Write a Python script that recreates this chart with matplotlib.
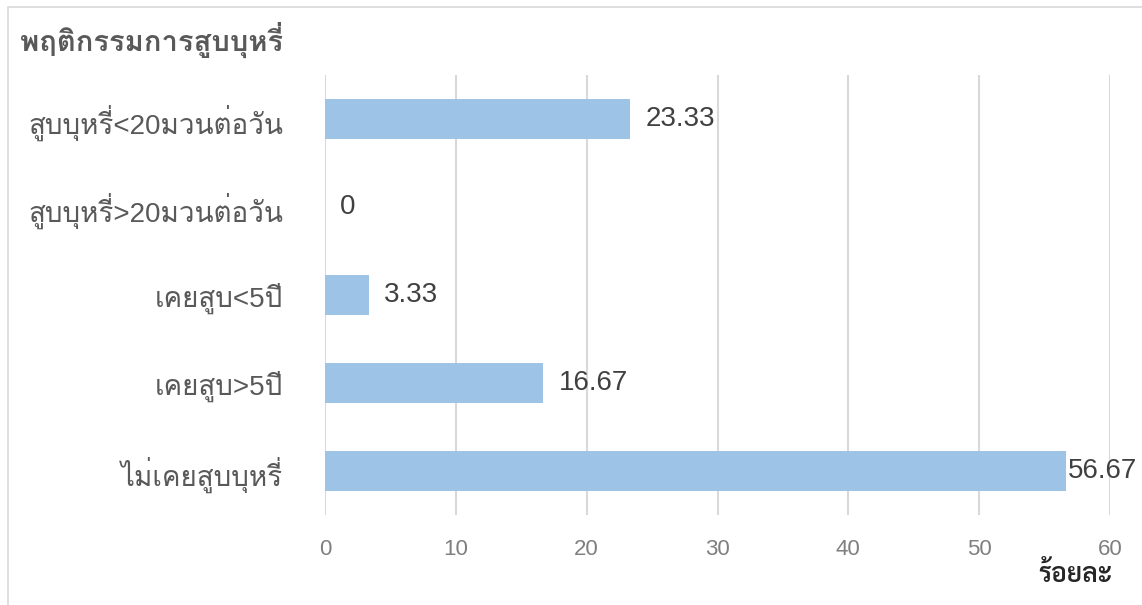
import matplotlib
matplotlib.use("Agg")
import matplotlib.pyplot as plt
from matplotlib.patches import Rectangle

# ข้อมูลพฤติกรรมการสูบบุหรี่ (ร้อยละ)
categories = ["ไม่เคยสูบบุหรี่", "เคยสูบ>5ปี", "เคยสูบ<5ปี",
              "สูบบุหรี่>20มวนต่อวัน", "สูบบุหรี่<20มวนต่อวัน"]
percent = [56.67, 16.67, 3.33, 0, 23.33]
xticks = [0, 10, 20, 30, 40, 50, 60]

thai = ["Liberation Sans", "Loma", "DejaVu Sans"]
narrow = ["Liberation Sans Narrow", "Liberation Sans", "DejaVu Sans"]

fig = plt.figure(figsize=(11.42, 6.05), dpi=100)
fig.patches.append(Rectangle((8 / 1142, -0.1), 1.2, 1 - 7 / 605 + 0.1,
                             transform=fig.transFigure, fill=False,
                             edgecolor="#d9d9d9", linewidth=1.2))

ax = fig.add_axes([325 / 1142, 90 / 605, 785 / 1142, 440 / 605])
y = range(len(categories))
ax.barh(y, percent, height=0.45, color="#9dc3e6", zorder=2)

ax.set_xlim(0, 60)
ax.set_ylim(-0.5, len(categories) - 0.5)
ax.set_xticks(xticks)
ax.set_xticklabels([str(t) for t in xticks], family=narrow, fontsize=16,
                   color="#7f7f7f")
ax.tick_params(axis="x", length=0, pad=17)
ax.set_yticks(list(y))
ax.set_yticklabels(categories, family=thai, fontsize=20, color="#595959")
ax.tick_params(axis="y", length=0, pad=30)
ax.grid(axis="x", color="#d9d9d9", linewidth=1.5, zorder=0)
for s in ax.spines.values():
    s.set_visible(False)

for yi, v in zip(y, percent):
    off = 1 if v > 50 else 11
    ax.annotate(f"{v:g}" if v == 0 else f"{v:.2f}", (v, yi),
                xytext=(off, 0), textcoords="offset points",
                va="center", ha="left", fontsize=20, color="#404040",
                family=thai)

fig.text(20 / 1142, 1 - 40 / 605, "พฤติกรรมการสูบบุหรี่", family=thai,
         fontsize=21, fontweight="bold", color="#595959", va="center")
fig.text(1112 / 1142, 1 - 575 / 605, "ร้อยละ", family=["Sarabun", "DejaVu Sans"],
         fontsize=19, fontweight="semibold", color="#262626", va="center",
         ha="right")

fig.savefig("out.png")
